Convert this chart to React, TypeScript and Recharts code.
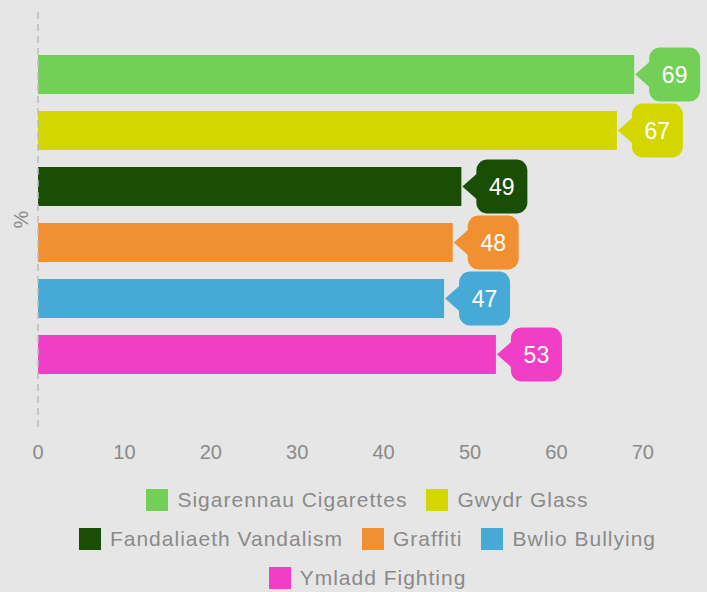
import { Bar, BarChart, LabelList, Legend, XAxis, YAxis } from "recharts";

const seriesNames = [
  "Sigarennau Cigarettes",
  "Gwydr Glass",
  "Fandaliaeth Vandalism",
  "Graffiti",
  "Bwlio Bullying",
  "Ymladd Fighting",
];
const seriesKeys = ["cig", "glass", "vandal", "graffiti", "bully", "fight"];
const seriesValues = [69, 67, 49, 48, 47, 53];
const seriesColors = ["#72d056", "#d4d600", "#1a4e07", "#f09030", "#47aad6", "#f03ec6"];
const xTicks = [0, 10, 20, 30, 40, 50, 60, 70];

const row: { [key: string]: string | number } = { name: "%" };
seriesKeys.forEach((k, i) => {
  row[k] = seriesValues[i];
});
const data = [row];

const FONT = "'Liberation Sans', Arial, sans-serif";
const GREY = "#8a8a8a";
const BG = "#e6e6e6";

// page background fills the whole window
document.body.style.margin = "0";
document.body.style.background = BG;

const renderCallout = (color: string) => (props: any) => {
  const x = Number(props.x);
  const y = Number(props.y);
  const w = Number(props.width);
  const h = Number(props.height);
  const ex = x + w;
  const cy = y + h / 2;
  const bx = ex + 15;
  const bw = 51;
  const bh = 54;
  return (
    <g>
      <polygon
        points={`${ex + 1},${cy} ${bx + 3},${cy - 15} ${bx + 3},${cy + 15}`}
        fill={color}
      />
      <rect x={bx} y={cy - bh / 2} width={bw} height={bh} rx={11} fill={color} />
      <text
        x={bx + bw / 2}
        y={cy}
        dy="0.36em"
        textAnchor="middle"
        fill="#fff"
        fontSize={23}
        fontFamily={FONT}
      >
        {props.value}
      </text>
    </g>
  );
};

const LegendRows = () => (
  <div style={{ textAlign: "center", fontFamily: FONT, fontSize: 21, color: GREY, letterSpacing: 1 }}>
    {seriesNames.map((name, i) => (
      <div
        key={name}
        style={{
          display: "inline-flex",
          alignItems: "center",
          height: 39,
          margin: "0 9.5px",
          whiteSpace: "nowrap",
        }}
      >
        <span
          style={{
            display: "inline-block",
            width: 22,
            height: 22,
            background: seriesColors[i],
            marginRight: 9,
          }}
        />
        {name}
      </div>
    ))}
  </div>
);

const App = () => {
  return (
    <BarChart
      width={707}
      height={592}
      layout="vertical"
      data={data}
      margin={{ top: 12, right: 21, bottom: 8, left: 0 }}
      barSize={39}
      barGap={17}
    >
      <XAxis
        type="number"
        domain={[0, 75]}
        ticks={xTicks}
        axisLine={false}
        tickLine={false}
        tickMargin={12}
        height={40}
        tick={{ fill: GREY, fontSize: 20, fontFamily: FONT }}
      />
      <YAxis
        type="category"
        dataKey="name"
        width={38}
        tick={false}
        tickLine={false}
        padding={{ top: 0, bottom: 10 }}
        axisLine={{ stroke: "#bdbdbd", strokeDasharray: "7 5", strokeWidth: 1.5 }}
        label={{ value: "%", angle: -90, position: "center", dx: 2, fill: GREY, fontSize: 20, fontFamily: FONT }}
      />
      <Legend
        verticalAlign="bottom"
        content={() => <LegendRows />}
        wrapperStyle={{ left: 38, width: 659, bottom: -5 }}
      />
      {seriesKeys.map((k, i) => (
        <Bar key={k} dataKey={k} name={seriesNames[i]} fill={seriesColors[i]} isAnimationActive={false}>
          <LabelList dataKey={k} content={renderCallout(seriesColors[i])} />
        </Bar>
      ))}
    </BarChart>
  );
};

export default App;
